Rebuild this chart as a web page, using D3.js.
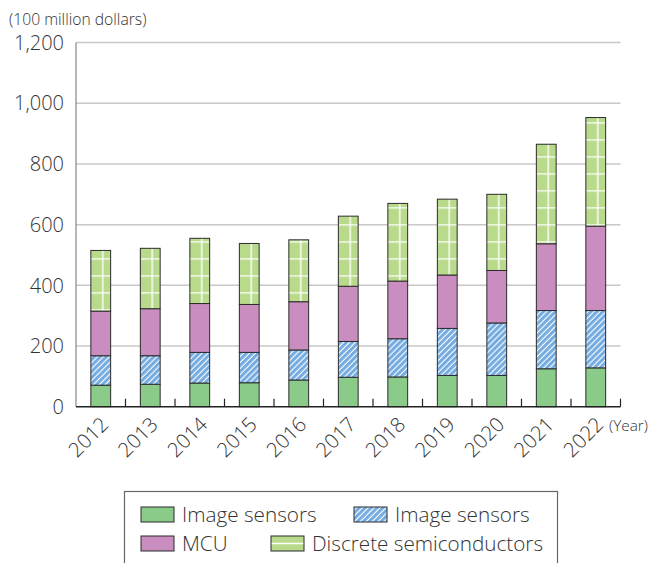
<!DOCTYPE html>
<html><head><meta charset="utf-8">
<script src="https://cdn.jsdelivr.net/npm/d3@7"></script>
<style>
html,body{margin:0;padding:0;background:#fff;}
svg{display:block;font-family:"Open Sans","Noto Sans",sans-serif;font-weight:300;}
</style></head>
<body><svg id="c" width="652" height="563"></svg>
<script>
const years = ["2012","2013","2014","2015","2016","2017","2018","2019","2020","2021","2022"];
const imageSensorsA = [71, 74, 78, 79, 88, 97, 98, 103, 103, 125, 128];
const imageSensorsB = [97, 94, 101, 100, 99, 118, 126, 155, 173, 192, 189];
const mcu = [147, 155, 161, 158, 159, 182, 190, 176, 173, 220, 278];
const discrete = [200, 199, 215, 201, 204, 231, 256, 250, 251, 328, 358];
const yTicks = [0, 200, 400, 600, 800, 1000, 1200];
const seriesNames = ["Image sensors", "Image sensors", "MCU", "Discrete semiconductors"];

const svg = d3.select("#c");
const x0 = 76, x1 = 620.5, yb = 406.7, yt = 42.6;
const x = d3.scaleBand().domain(years).range([x0, x1]).paddingInner(0.6).paddingOuter(0.3);
const y = d3.scaleLinear().domain([0, 1200]).range([yb, yt]);

const defs = svg.append("defs");
const hatch = defs.append("pattern").attr("id","hatch").attr("patternUnits","userSpaceOnUse")
  .attr("width",4.2).attr("height",4.2).attr("patternTransform","rotate(45)");
hatch.append("rect").attr("width",4.2).attr("height",4.2).attr("fill","#74abe0");
hatch.append("line").attr("x1",2).attr("x2",2).attr("y1",0).attr("y2",4.2).attr("stroke","#fff").attr("stroke-width",1.1);

const st = x.step();
const grid = defs.append("pattern").attr("id","grid").attr("patternUnits","userSpaceOnUse")
  .attr("width",st).attr("height",17).attr("x",x0).attr("y",3.3);
grid.append("rect").attr("width",st).attr("height",17).attr("fill","#b9da8b");
grid.append("line").attr("x1",0).attr("x2",st).attr("y1",0.5).attr("y2",0.5).attr("stroke","#fff").attr("stroke-width",1.4);
grid.append("line").attr("x1",st/2+2).attr("x2",st/2+2).attr("y1",0).attr("y2",17).attr("stroke","#fff").attr("stroke-width",1.4);

const legGrid = defs.append("pattern").attr("id","leggrid").attr("patternUnits","objectBoundingBox")
  .attr("width",1).attr("height",1);
legGrid.append("rect").attr("width",40).attr("height",20).attr("fill","#b9da8b");
legGrid.append("line").attr("x1",0).attr("x2",40).attr("y1",7.5).attr("y2",7.5).attr("stroke","#fff").attr("stroke-width",1.4);

const fills = ["#8acb89","url(#hatch)","#c98dbf","url(#grid)"];
const legFills = ["#8acb89","url(#hatch)","#c98dbf","url(#leggrid)"];

// gridlines
svg.append("g").selectAll("line").data(yTicks.filter(d=>d>0)).join("line")
  .attr("x1",x0).attr("x2",x1).attr("y1",d=>y(d)).attr("y2",d=>y(d))
  .attr("stroke","#c8c8c8").attr("stroke-width",1.5);

// y labels
svg.append("g").selectAll("text").data(yTicks).join("text")
  .attr("x",64).attr("y",d=>y(d)).attr("dy","0.36em").attr("text-anchor","end")
  .attr("font-size",20).attr("fill","#333").text(d=>d3.format(",")(d));

svg.append("text").attr("x",9).attr("y",25).attr("font-size",15.7).attr("fill","#333").text("(100 million dollars)");

// stacked bars
const data = years.map((yr,i)=>({year:yr, a:imageSensorsA[i], b:imageSensorsB[i], c:mcu[i], d:discrete[i]}));
const stack = d3.stack().keys(["a","b","c","d"])(data);
svg.append("g").selectAll("g").data(stack).join("g")
  .attr("fill",(d,i)=>fills[i])
  .selectAll("rect").data(d=>d).join("rect")
  .attr("x",d=>x(d.data.year)).attr("width",x.bandwidth())
  .attr("y",d=>y(d[1])).attr("height",d=>y(d[0])-y(d[1]))
  .attr("stroke","#2b2b2b").attr("stroke-width",1);

// axes lines
svg.append("line").attr("x1",x0).attr("x2",x0).attr("y1",yt).attr("y2",yb).attr("stroke","#888").attr("stroke-width",1.2);
svg.append("line").attr("x1",x0).attr("x2",x1).attr("y1",yb).attr("y2",yb).attr("stroke","#222").attr("stroke-width",1.4);
// inward ticks between categories
svg.append("g").selectAll("line").data(years).join("line")
  .attr("x1",d=>x(d)+x.bandwidth()/2+st/2).attr("x2",d=>x(d)+x.bandwidth()/2+st/2)
  .attr("y1",yb).attr("y2",yb-8).attr("stroke","#222").attr("stroke-width",1.2);

// x labels
svg.append("g").selectAll("text").data(years).join("text")
  .attr("transform",d=>`translate(${x(d)+x.bandwidth()/2+4},${yb+14}) rotate(-45)`)
  .attr("text-anchor","end").attr("dy","0.35em").attr("font-size",20.3).attr("fill","#333").text(d=>d);
svg.append("text").attr("x",609).attr("y",431).attr("font-size",15.3).attr("fill","#333").text("(Year)");

// legend
const lg = svg.append("g");
lg.append("rect").attr("x",124.5).attr("y",491.5).attr("width",433).attr("height",90)
  .attr("fill","none").attr("stroke","#666").attr("stroke-width",1.2);
const legPos = [[141,507],[354,507],[141,536],[271,536]];
seriesNames.forEach((n,i)=>{
  const [lx,ly] = legPos[i];
  lg.append("rect").attr("x",lx).attr("y",ly).attr("width",33).attr("height",15)
    .attr("fill",legFills[i]).attr("stroke","#2b2b2b").attr("stroke-width",1);
  lg.append("text").attr("x",lx+41).attr("y",ly+7.5).attr("dy","0.36em")
    .attr("font-size",20.7).attr("fill","#333").text(n);
});
</script></body></html>
